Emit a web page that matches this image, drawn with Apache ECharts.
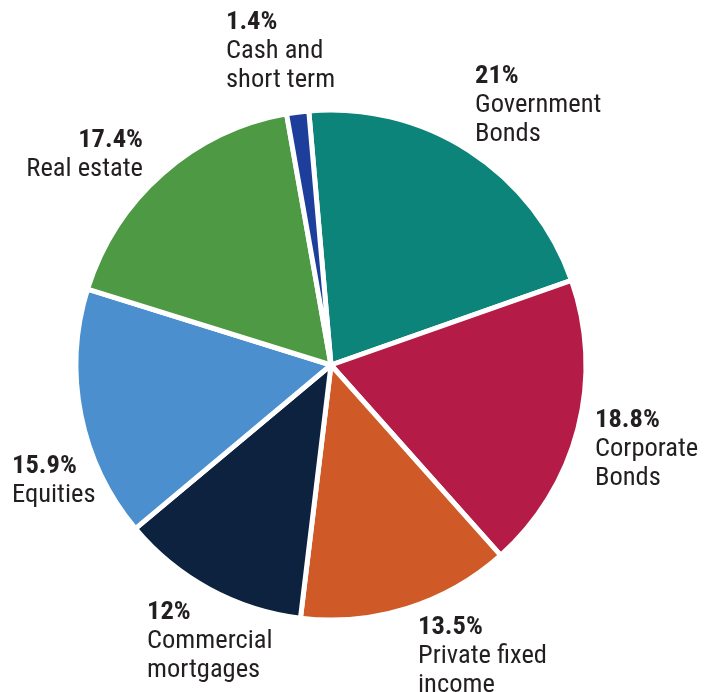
<!DOCTYPE html>
<html><head><meta charset="utf-8">
<script src="https://cdn.jsdelivr.net/npm/echarts@6/dist/echarts.min.js"></script>
<style>html,body{margin:0;padding:0;background:#fff}#c{width:714px;height:692px}</style>
</head><body><div id="c"></div>
<script>
const categories = ["Government\nBonds","Corporate\nBonds","Private fixed\nincome","Commercial\nmortgages","Equities","Real estate","Cash and\nshort term"];
const values = [21, 18.8, 13.5, 12, 15.9, 17.4, 1.4];
const colors = ["#0d847a","#b41b47","#cf5a27","#0c223f","#4b8fce","#4e9944","#1d3f9b"];
// label anchor points (top-left / top-right of each label block)
const labelPos = [
  {x:475, y:62, align:'left'},
  {x:595, y:406, align:'left'},
  {x:418, y:613, align:'left'},
  {x:147, y:598, align:'left'},
  {x:12, y:452, align:'left'},
  {x:143, y:126, align:'right'},
  {x:226, y:8, align:'left'}
];
const chart = echarts.init(document.getElementById('c'));
const font = '"Liberation Sans Narrow","Roboto Condensed","Liberation Sans",sans-serif';
chart.setOption({
  animation:false,
  series:[{
    type:'pie',
    center:[331,365],
    radius:255,
    startAngle:95,
    clockwise:true,
    avoidLabelOverlap:false,
    data: categories.map((n,i)=>({name:n,value:values[i],itemStyle:{color:colors[i]}})),
    itemStyle:{borderColor:'#fff',borderWidth:5},
    label:{
      show:true,
      position:'outside',
      formatter: p => '{p|' + p.value + '%}\n{n|' + p.name.split('\n').join('}\n{n|') + '}',
      rich:{
        p:{fontFamily:font,fontWeight:'bold',fontSize:26.5,lineHeight:29,color:'#231f20'},
        n:{fontFamily:font,fontSize:26.5,lineHeight:29,color:'#231f20'}
      }
    },
    labelLine:{show:false},
    labelLayout: function(params){
      const lp = labelPos[params.dataIndex];
      return {x:lp.x, y:lp.y, align:lp.align, verticalAlign:'top', hideOverlap:false};
    }
  }]
});
</script></body></html>
